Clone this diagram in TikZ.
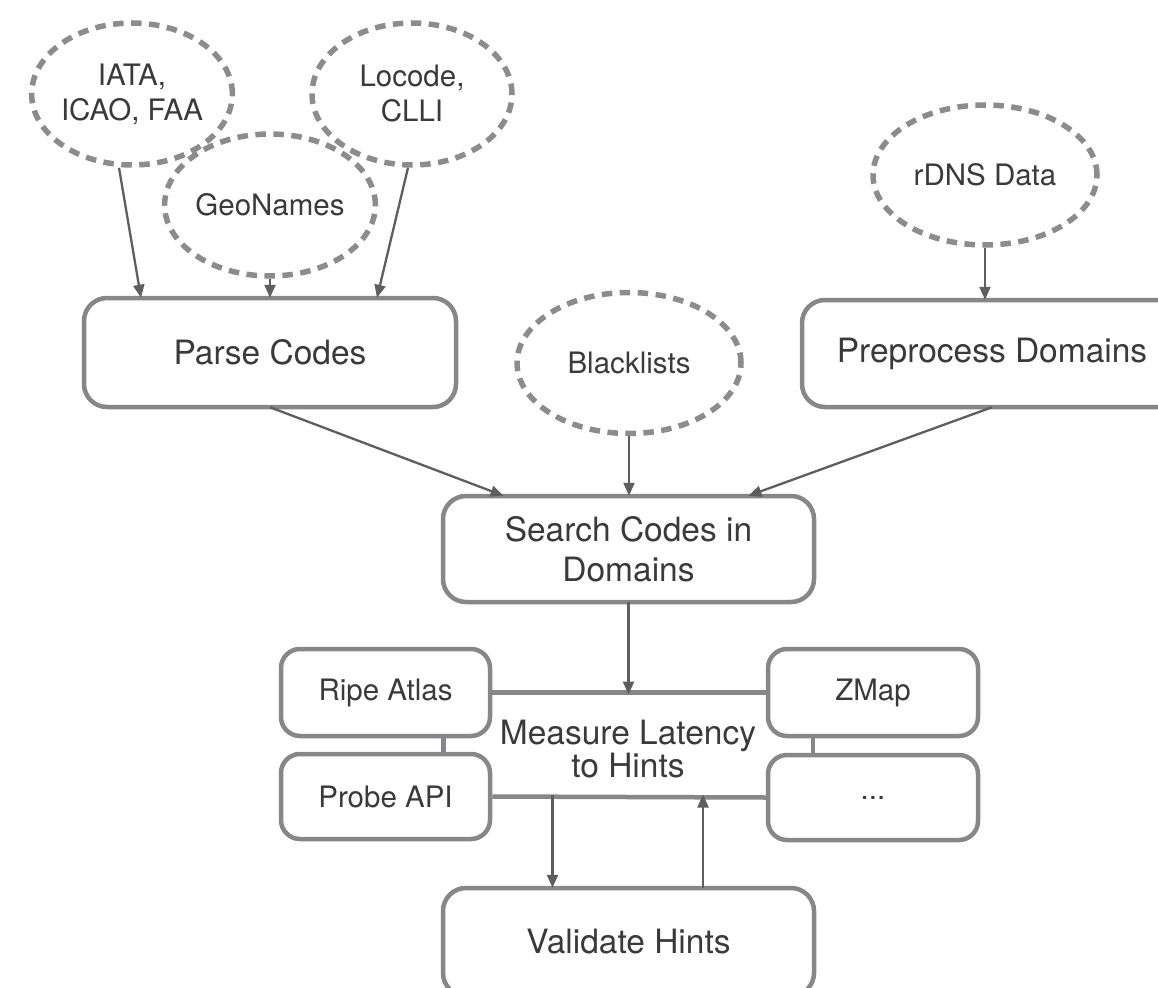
\documentclass[tikz,border=0pt]{standalone}
\usepackage{fontspec}
\setmainfont{TeX Gyre Heros}
\usetikzlibrary{shapes.geometric,arrows.meta}
\definecolor{boxgray}{HTML}{85878A}
\definecolor{dashgray}{HTML}{8A8C8F}
\definecolor{arrowgray}{HTML}{5E5E5E}
\definecolor{textgray}{HTML}{3A3A3A}
\tikzset{
  src/.style={ellipse, draw=dashgray, line width=5.5pt, dash pattern=on 10.5pt off 7.5pt,
    inner sep=0pt, align=center, text=textgray, font=\fontsize{29.5}{35}\selectfont},
  bigbox/.style={rectangle, rounded corners=23pt, draw=boxgray, line width=4.5pt,
    align=center, text=textgray, font=\fontsize{33.5}{40}\selectfont, inner sep=0pt},
  smallbox/.style={rectangle, rounded corners=19pt, draw=boxgray, line width=4.5pt,
    minimum width=209pt, align=center, text=textgray, font=\fontsize{29.5}{35}\selectfont, inner sep=0pt},
  link/.style={draw=boxgray, line width=4.5pt},
  flow/.style={draw=arrowgray, line width=2.3pt, -{Triangle[length=13pt,width=11pt]}}
}
\begin{document}
\begin{tikzpicture}[x=1pt,y=-1pt]
\useasboundingbox (0,0) rectangle (1158,987);
\clip (0,0) rectangle (1158,987);
\fill[white] (0,0) rectangle (1158,987);

% data sources
\node[src, minimum width=198pt, minimum height=142pt] (iata) at (132,94) {IATA,\\ICAO, FAA};
\node[src, minimum width=200pt, minimum height=142pt] (locode) at (412,94) {Locode,\\CLLI};
\node[src, minimum width=200pt, minimum height=142pt] (geo) at (270,205) {GeoNames};
\node[src, minimum width=224pt, minimum height=140pt] (rdns) at (985,175) {rDNS Data};
\node[src, minimum width=224pt, minimum height=141pt] (black) at (629,363) {Blacklists};

% processing boxes
\node[bigbox, minimum width=372pt, minimum height=109pt] (pc) at (270,352.5) {Parse Codes};
\node[bigbox, minimum width=380pt, minimum height=107pt] (pre) at (992,353.5) {Preprocess Domains};
\node[bigbox, minimum width=371pt, minimum height=106pt] (search) at (628.5,549) {Search Codes in\\Domains};
\node[bigbox, minimum width=371pt, minimum height=108pt] (val) at (628.5,942) {Validate Hints};

% measurement platforms
\node[smallbox, minimum height=87pt] (ripe) at (385.5,692.5) {Ripe Atlas};
\node[smallbox, minimum height=85pt] (probe) at (385.5,796.5) {Probe API};
\node[smallbox, minimum width=210pt, minimum height=87pt] (zmap) at (873,692.5) {ZMap};
\node[smallbox, minimum width=210pt, minimum height=85pt] (more) at (873,797.5) {...};
\node[align=center, text=textgray, font=\fontsize{33.5}{33}\selectfont, inner sep=0pt] (measure) at (628,749) {Measure Latency\\to Hints};

% links of the measure block
\draw[link] (ripe.east) -- (zmap.west);
\draw[link] (probe.east) -- (more.west);
\draw[link] ([xshift=58pt]ripe.south) -- ([xshift=58pt]probe.north);
\draw[link] ([xshift=-60pt]zmap.south) -- ([xshift=-60pt]more.north);

% arrows
\draw[flow] ([xshift=-13pt]iata.south) -- ([xshift=-129pt,yshift=-2pt]pc.north);
\draw[flow] (geo.south) -- ([yshift=-2pt]pc.north);
\draw[flow] ([xshift=-4pt]locode.south) -- ([xshift=107pt,yshift=-2pt]pc.north);
\draw[flow] (rdns.south) -- ([yshift=-2pt]rdns.south |- pre.north);
\draw[flow] (black.south) -- ([yshift=-2pt]black.south |- search.north);
\draw[flow] ([yshift=2pt]pc.south) -- ([xshift=-125pt,yshift=-2pt]search.north);
\draw[flow] ([yshift=2pt]pre.south) -- ([xshift=120pt,yshift=-2pt]search.north);
\draw[flow] ([yshift=2pt]search.south) -- ([yshift=-2pt]search.south |- ripe.east);
\draw[flow] ([xshift=-76pt,yshift=2pt]val.north |- probe.east) -- ([xshift=-76pt,yshift=-2pt]val.north);
\draw[flow] ([xshift=74.5pt,yshift=-2pt]val.north) -- ([xshift=74.5pt,yshift=2pt]val.north |- probe.east);
\end{tikzpicture}
\end{document}
